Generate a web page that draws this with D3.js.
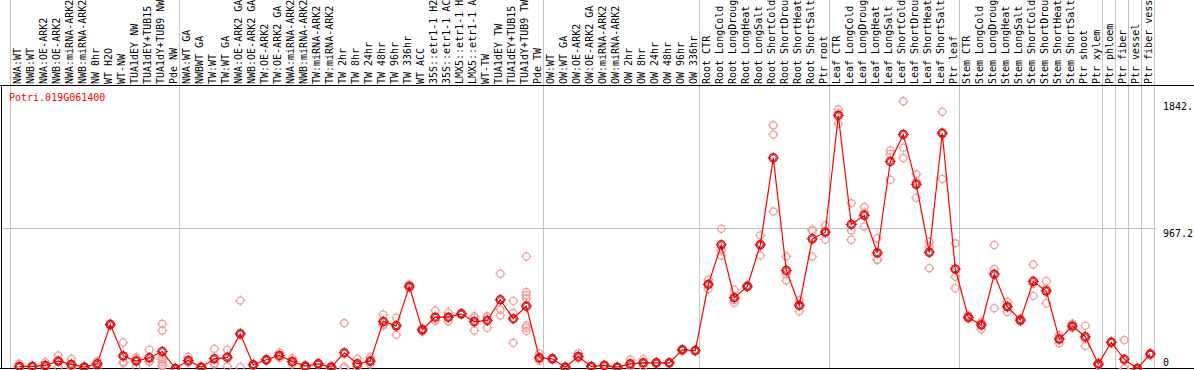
<!DOCTYPE html>
<html>
<head>
<meta charset="utf-8">
<script src="https://cdn.jsdelivr.net/npm/d3@7"></script>
<style>
  body { margin: 0; background: #fff; }
  svg { display: block; }
  text { font-family: "DejaVu Sans Mono", "Liberation Mono", monospace; font-size: 10px; }
</style>
</head>
<body>
<div id="chart"></div>
<script>
// Données
const geneName = "Potri.019G061400";

// libellés tels qu'ils sont visibles (coupés en haut dans l'original)
const categories = [
  "NWA:WT", "NWB:WT", "NWA:OE-ARK2", "NWB:OE-ARK2", "NWA:miRNA-ARK2", "NWB:miRNA-ARK2",
  "NW 0hr", "WT H2O", "WT-NW", "TUA1dEY NW", "TUA1dEY+TUB15", "TUA1dY+TUB9 NW", "Pde NW",
  "NWA:WT GA", "NWBWT GA", "TW:WT", "TW:WT GA", "NWA:OE-ARK2 GA", "NWB:OE-ARK2 GA",
  "TW:OE-ARK2", "TW:OE-ARK2 GA", "NWA:miRNA-ARK2", "NWB:miRNA-ARK2", "TW:miRNA-ARK2",
  "TW:miRNA-ARK2", "TW 2hr", "TW 8hr", "TW 24hr", "TW 48hr", "TW 96hr", "TW 336hr", "WT ACC",
  "35S::etr1-1 H2", "35S::etr1-1 AC", "LMX5::etr1-1 H", "LMX5::etr1-1 A", "WT-TW",
  "TUA1dEY TW", "TUA1dEY+TUB15", "TUA1dY+TUB9 TW", "Pde TW",
  "OW:WT", "OW:WT GA", "OW:OE-ARK2", "OW:OE-ARK2 GA", "OW:miRNA-ARK2", "OW:miRNA-ARK2",
  "OW 2hr", "OW 8hr", "OW 24hr", "OW 48hr", "OW 96hr", "OW 336hr",
  "Root CTR", "Root LongCold", "Root LongDroug", "Root LongHeat", "Root LongSalt",
  "Root ShortCold", "Root ShortDrou", "Root ShortHeat", "Root ShortSalt", "Ptr root",
  "Leaf CTR", "Leaf LongCold", "Leaf LongDroug", "Leaf LongHeat", "Leaf LongSalt",
  "Leaf ShortCold", "Leaf ShortDrou", "Leaf ShortHeat", "Leaf ShortSalt", "Ptr leaf",
  "Stem CTR", "Stem LongCold", "Stem LongDroug", "Stem LongHeat", "Stem LongSalt",
  "Stem ShortCold", "Stem ShortDrou", "Stem ShortHeat", "Stem ShortSalt", "Ptr shoot",
  "Ptr xylem", "Ptr phloem", "Ptr fiber", "Ptr vessel", "Ptr fiber vess"
];

// index du début de chaque groupe (séparateurs verticaux)
const groupStarts = [0, 13, 41, 53, 63, 73, 84, 85, 86, 87, 88];

const means = [
  14, 14, 21, 51, 28, 9, 32, 303, 87, 51, 74, 117, 0,
  55, 9, 67, 76, 239, 25, 60, 90, 48, 16, 32, 9, 108, 32, 51, 324, 294, 566, 267,
  354, 354, 377, 324, 331, 474, 343, 430, 74,
  67, 9, 83, 14, 21, 9, 32, 39, 39, 39, 129, 124,
  580, 853, 488, 566, 853, 1453, 676, 435, 894, 940,
  1745, 993, 1056, 798, 1428, 1614, 1270, 801, 1622, 686,
  353, 300, 650, 426, 334, 601, 534, 203, 293, 219,
  31, 181, 63, 0, 100
];

const replicates = [
  [32, 8, 14], [10, 14, 18], [43, 8, 12], [90, 10, 52], [67, 5, 12], [5, 9, 13],
  [50, 10, 36], [310, 298, 300], [179, 46, 36], [78, 10, 65], [129, 46, 48],
  [308, 262, 80, 62, 45, 25, 15], [0, 2, 0],
  [80, 40, 45], [5, 9, 13], [136, 30, 35], [129, 14, 85], [469, 9, 239], [30, 20, 25],
  [65, 55, 60], [110, 75, 85], [70, 30, 44], [20, 10, 18], [38, 28, 30], [0, 10, 17],
  [313, 12, 0], [67, 15, 14], [78, 30, 45], [372, 297, 303], [350, 232, 300],
  [580, 560, 558], [255, 275, 271], [400, 330, 332], [385, 325, 352], [380, 372, 379],
  [360, 262, 350], [360, 281, 352], [653, 405, 366], [465, 382, 177],
  [773, 527, 505, 482, 297, 281, 258], [105, 54, 67],
  [72, 62, 67], [5, 9, 13], [105, 70, 74], [10, 18, 14], [25, 18, 20], [5, 10, 12],
  [60, 10, 26], [65, 15, 37], [45, 33, 39], [42, 36, 39], [132, 125, 130], [128, 120, 124],
  [612, 547, 581], [964, 780, 815], [543, 451, 470], [560, 572, 566], [918, 780, 861],
  [1677, 1614, 1083], [773, 650, 607], [470, 395, 440], [957, 773, 952], [987, 890, 943],
  [1787, 1688, 1760], [1140, 952, 888], [1113, 980, 1075], [898, 748, 752],
  [1504, 1480, 1302], [1842.3, 1523, 1451], [1339, 1290, 1178], [874, 840, 691],
  [1771, 1630, 1307], [863, 633, 553],
  [365, 345, 350], [310, 270, 320], [852, 686, 415], [460, 390, 428], [345, 325, 332],
  [718, 585, 500], [603, 550, 450], [230, 174, 205], [310, 280, 290], [295, 205, 157],
  [40, 25, 28], [185, 178], [196, 0, 0], [0, 0, 0], [105, 95, 100]
];

const yTickLabels = ["1842.", "967.2", "0"];
const yMax = 1842.3;
const yMid = 967.2;

// Taille
const width = 1194, height = 370;
const plotTop = 85.5, plotBottom = 368.5;

const svg = d3.select("#chart").append("svg")
  .attr("width", width)
  .attr("height", height);

svg.append("rect").attr("width", width).attr("height", height).attr("fill", "#fff");

// Échelles (domaine = index, certains libellés se répètent)
const idx = d3.range(categories.length);
const x = d3.scaleBand()
  .domain(idx)
  .range([10.5, 10.5 + categories.length * 13])
  .padding(0);

const px = i => x(i) + 8.8;
const xEdge = i => i < categories.length ? x(i) : x.range()[1];

const y = d3.scaleLinear()
  .domain([0, yMax * 1.05])
  .range([plotBottom, 88]);

// Grille
svg.selectAll(".vgrid")
  .data(groupStarts)
  .enter().append("line")
  .attr("x1", xEdge)
  .attr("x2", xEdge)
  .attr("y1", 0)
  .attr("y2", plotBottom)
  .attr("stroke", "#c4c4c4");

svg.append("line")
  .attr("x1", 1).attr("x2", x.range()[1] + 2)
  .attr("y1", Math.round(y(yMid)) + 0.5).attr("y2", Math.round(y(yMid)) + 0.5)
  .attr("stroke", "#c4c4c4");

// Cadre
svg.append("line").attr("x1", 0).attr("x2", width).attr("y1", plotTop).attr("y2", plotTop).attr("stroke", "#000");
svg.append("line").attr("x1", 0).attr("x2", width).attr("y1", plotBottom).attr("y2", plotBottom).attr("stroke", "#000");
svg.append("line").attr("x1", 1.5).attr("x2", 1.5).attr("y1", plotTop).attr("y2", plotBottom).attr("stroke", "#000");

// Étiquettes des catégories
svg.selectAll(".cat")
  .data(idx)
  .enter().append("text")
  .attr("class", "cat")
  .attr("transform", i => `translate(${x(i) + 10.5},84) rotate(-90)`)
  .attr("fill", "#000")
  .text(i => categories[i]);

// Titre
svg.append("text")
  .attr("x", 9).attr("y", 101)
  .attr("fill", "#ff0000")
  .text(geneName);

// Axe de droite
const axisVals = [yMax, yMid, 0];
svg.selectAll(".ylab")
  .data(axisVals)
  .enter().append("text")
  .attr("x", 1163)
  .attr("y", (d, i) => i === 2 ? 366 : y(d) + 9)
  .attr("fill", "#000")
  .text((d, i) => yTickLabels[i]);

// Marqueur: cercle avec petites pointes
function marker(g, cx, cy, color, r, sw) {
  g.append("circle")
    .attr("cx", cx).attr("cy", cy).attr("r", r)
    .attr("fill", "none").attr("stroke", color).attr("stroke-width", sw);
  const t = r + 1.6;
  [[0, -1], [0, 1], [-1, 0], [1, 0]].forEach(([dx, dy]) => {
    g.append("line")
      .attr("x1", cx + dx * (r - 0.5)).attr("y1", cy + dy * (r - 0.5))
      .attr("x2", cx + dx * t).attr("y2", cy + dy * t)
      .attr("stroke", color).attr("stroke-width", 1);
  });
}

// Réplicats
const repG = svg.append("g");
idx.forEach(i => {
  replicates[i].forEach(v => marker(repG, px(i), y(v), "#f0a0a0", 3.6, 1.3));
});

// Ligne des moyennes
const line = d3.line()
  .x((d, i) => px(i))
  .y(d => y(d));

svg.append("path")
  .datum(means)
  .attr("d", line)
  .attr("fill", "none")
  .attr("stroke", "#ff0000")
  .attr("stroke-width", 1.2);

// Moyennes
const meanG = svg.append("g");
idx.forEach(i => {
  marker(meanG, px(i), y(means[i]), "#ff0000", 4, 1.5);
  meanG.append("circle")
    .attr("cx", px(i)).attr("cy", y(means[i])).attr("r", 2.8)
    .attr("fill", "none").attr("stroke", "#600000").attr("stroke-width", 0.7);
});
</script>
</body>
</html>
